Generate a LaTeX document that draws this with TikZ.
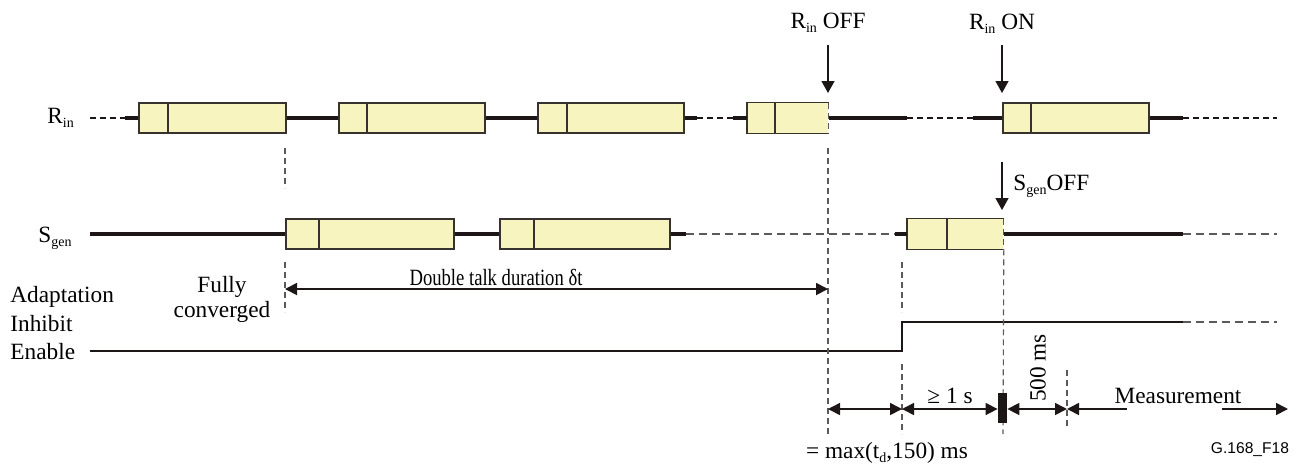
\documentclass[tikz,border=0pt]{standalone}
\usepackage{fontspec}
\setmainfont{Liberation Serif}
\newfontfamily\labsans{Liberation Sans}
\usetikzlibrary{arrows.meta}
\definecolor{boxfill}{RGB}{247,244,192}
\definecolor{boxline}{RGB}{55,50,45}
\definecolor{sig}{RGB}{28,22,22}
\definecolor{dgray}{RGB}{90,90,90}
\newcommand\sbs[1]{\raisebox{-0.45ex}{\fontsize{7}{8}\selectfont #1}}
\begin{document}
\begin{tikzpicture}[x=0.5pt,y=-0.5pt,
  txt/.style={font=\fontsize{11.65}{14}\selectfont, inner sep=0, anchor=base},
  sbox/.style={fill=boxfill, draw=boxline, line width=0.8pt, minimum height=15pt, inner sep=0, anchor=west},
  obox/.style={fill=boxfill, draw=none, minimum height=15pt, inner sep=0, anchor=west},
  divl/.style={draw=boxline, line width=0.8pt},
  sigl/.style={draw=sig, line width=1.6pt},
  rdash/.style={draw=sig, line width=0.55pt, dash pattern=on 3pt off 2pt},
  sdash/.style={draw=dgray, line width=0.8pt, dash pattern=on 4pt off 2.5pt},
  vdash/.style={draw=dgray, line width=0.55pt, dash pattern=on 3pt off 2pt},
  ptr/.style={draw=sig, line width=0.6pt, -{Triangle[length=6pt,width=6.5pt]}},
  dim/.style={draw=sig, line width=0.8pt, {Triangle[length=6pt,width=6pt]}-{Triangle[length=6pt,width=6pt]}},
  stepl/.style={draw=sig, line width=1.3pt}
]
\useasboundingbox (0,0) rectangle (1302,468);

% ---------- R_in row ----------
\node[txt, anchor=base west] (rinlab) at (47,123) {R\sbs{in}};
\node[sbox, minimum width=73.5pt] (r1) at (138,118) {};
\node[sbox, minimum width=73pt] (r2) at (338,118) {};
\node[sbox, minimum width=73pt] (r3) at (537,118) {};
\node[obox, minimum width=40.5pt] (r4) at (747,118) {};
\node[sbox, minimum width=73pt] (r5) at (1002,118) {};
\draw[divl] (r4.north east) -- (r4.north west) -- (r4.south west) -- (r4.south east);
\draw[vdash] (r4.north east) -- (r4.south east);
\foreach \b/\d in {r1/30,r2/29,r3/30,r4/28,r5/29}
  \draw[divl] (\b.north west) ++(\d,0) -- ++(0,30);

\coordinate (ra0) at (90,118);
\coordinate (ra1) at (125,118);
\coordinate (ra2) at (697,118);
\coordinate (ra3) at (733,118);
\coordinate (ra4) at (907,118);
\coordinate (ra5) at (973,118);
\coordinate (ra6) at (1183,118);
\coordinate (ra7) at (1277,118);
\draw[rdash] (ra0) -- (ra1);
\draw[sigl] (ra1) -- (r1.west);
\draw[sigl] (r1.east) -- (r2.west);
\draw[sigl] (r2.east) -- (r3.west);
\draw[sigl] (r3.east) -- (ra2);
\draw[rdash] (ra2) -- (ra3);
\draw[sigl] (ra3) -- (r4.west);
\draw[sigl] (r4.east) -- (ra4);
\draw[rdash] (ra4) -- (ra5);
\draw[sigl] (ra5) -- (r5.west);
\draw[sigl] (r5.east) -- (ra6);
\draw[rdash] (ra6) -- (ra7);

% ---------- S_gen row ----------
\node[txt, anchor=base west] (sgenlab) at (38,242) {S\sbs{gen}};
\node[sbox, minimum width=84pt] (s1) at (285,234) {};
\node[sbox, minimum width=85pt] (s2) at (499,234) {};
\node[obox, minimum width=48pt] (s3) at (907,234) {};
\draw[divl] (s3.north east) -- (s3.north west) -- (s3.south west) -- (s3.south east);
\draw[vdash] (s3.north east) -- (s3.south east);
\foreach \b/\d in {s1/34,s2/35,s3/40}
  \draw[divl] (\b.north west) ++(\d,0) -- ++(0,30);

\coordinate (sa0) at (90,234);
\coordinate (sa1) at (686,234);
\coordinate (sa2) at (895,234);
\coordinate (sa3) at (1183,234);
\coordinate (sa4) at (1277,234);
\draw[sigl] (sa0) -- (s1.west);
\draw[sigl] (s1.east) -- (s2.west);
\draw[sigl] (s2.east) -- (sa1);
\draw[sdash] (sa1) -- (sa2);
\draw[sigl] (sa2) -- (s3.west);
\draw[sigl] (s3.east) -- (sa3);
\draw[sdash] (sa3) -- (sa4);

% ---------- event arrows ----------
\node[txt] (rofflab) at (828,28) {R\sbs{in} OFF};
\node[txt] (ronlab) at (1002,29) {R\sbs{in} ON};
\node[txt, anchor=base west] (sofflab) at (1013,190) {S\sbs{gen}OFF};
\coordinate (roffA) at (828,45);
\coordinate (roffB) at (828,93);
\coordinate (ronA) at (1002,45);
\coordinate (ronB) at (1002,93);
\coordinate (soffA) at (1002,162);
\coordinate (soffB) at (1002,210);
\draw[ptr] (roffA) -- (roffB);
\draw[ptr] (ronA) -- (ronB);
\draw[ptr] (soffA) -- (soffB);

% ---------- adaptation ----------
\node[txt, anchor=base west] (adlab) at (10,302) {Adaptation};
\node[txt, anchor=base west] (inlab) at (10,331) {Inhibit};
\node[txt, anchor=base west] (enlab) at (10,359) {Enable};
\coordinate (en0) at (90,351);
\coordinate (st1) at (902,351);
\coordinate (st2) at (902,322);
\coordinate (st3) at (1183,322);
\coordinate (st4) at (1277,322);
\draw[stepl] (en0) -- (st1) -- (st2) -- (st3);
\draw[sdash] (st3) -- (st4);

\node[txt] (fully) at (222,292) {Fully};
\node[txt] (conv) at (222,317) {converged};

% ---------- vertical dashed markers ----------
\coordinate (v1a) at (285,148);
\coordinate (v1b) at (285,188);
\coordinate (v1c) at (285,262);
\coordinate (v1d) at (285,312);
\coordinate (v2a) at (828,148);
\coordinate (v2b) at (828,435);
\coordinate (v3a) at (902,262);
\coordinate (v3b) at (902,312);
\coordinate (v3c) at (902,364);
\coordinate (v3d) at (902,434);
\coordinate (v4b) at (1003,434);
\coordinate (v5a) at (1067,370);
\coordinate (v5b) at (1067,428);
\draw[vdash] (v1a) -- (v1b);
\draw[vdash] (v1c) -- (v1d);
\draw[vdash] (v2a) -- (v2b);
\draw[vdash] (v3a) -- (v3b);
\draw[vdash] (v3c) -- (v3d);
\draw[vdash] (s3.south east) -- (v4b);
\draw[vdash] (v5a) -- (v5b);

% ---------- double talk ----------
\coordinate (dtA) at (285,289);
\coordinate (dtB) at (828,289);
\draw[dim, line width=0.9pt] (dtA) -- (dtB);
\node[txt] (dtlab) at (496,285) {\scalebox{0.8}[1]{Double talk duration δt}};

% ---------- timing dimensions ----------
\node[fill=sig, minimum width=4.5pt, minimum height=15pt, inner sep=0] (mk) at (1002.5,408) {};
\coordinate (d1) at (828,409);
\coordinate (d2) at (902,409);
\coordinate (d4) at (1067,409);
\coordinate (m1) at (1127,409);
\coordinate (m2) at (1222,409);
\coordinate (m3) at (1288,409);
\draw[dim] (d1) -- (d2);
\draw[dim] (d2) -- (mk.west |- d2);
\draw[dim] (mk.east |- d4) -- (d4);
\draw[draw=sig, line width=0.8pt, {Triangle[length=6pt,width=6pt]}-] (d4) -- (m1);
\draw[draw=sig, line width=0.8pt, -{Triangle[length=6pt,width=6pt]}] (m2) -- (m3);

\node[txt] (ge1) at (950,403) {≥ 1 s};
\node[txt, rotate=90, anchor=center] (ms500) at (1038,368) {500 ms};
\node[txt] (meas) at (1178,403) {Measurement};
\node[txt] (maxlab) at (887,458) {= max(t\sbs{d},150) ms};
\node[inner sep=0, anchor=base, font=\labsans\fontsize{7.8}{9}\selectfont] (fig) at (1250,453) {G.168\_F18};
\end{tikzpicture}
\end{document}
